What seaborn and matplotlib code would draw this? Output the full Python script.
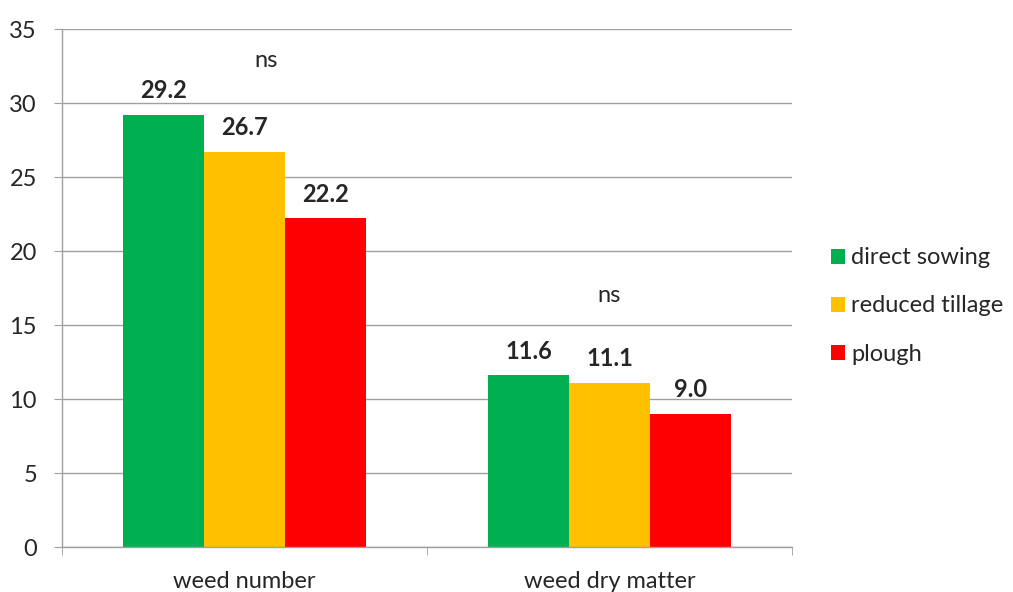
import matplotlib
matplotlib.use("Agg")
import matplotlib.pyplot as plt
import seaborn as sns
import pandas as pd
from matplotlib.ticker import MultipleLocator, FixedLocator

categories = ["weed number", "weed dry matter"]
treatments = ["direct sowing", "reduced tillage", "plough"]
direct_sowing = [29.2, 11.6]
reduced_tillage = [26.7, 11.1]
plough = [22.2, 9.0]
sig_labels = ["ns", "ns"]
sig_y = [32.9, 17.0]
colors = ["#00B050", "#FFC000", "#FF0000"]

rows = []
for t, vals in zip(treatments, [direct_sowing, reduced_tillage, plough]):
    for c, v in zip(categories, vals):
        rows.append({"category": c, "treatment": t, "value": v})
df = pd.DataFrame(rows)

sns.set_style("white")
plt.rcParams["font.family"] = ["Lato", "DejaVu Sans"]

FS = 17

fig = plt.figure(figsize=(10.13, 5.92), dpi=100)
ax = fig.add_axes([62/1013, 45/592, 730/1013, 518/592])

sns.barplot(data=df, x="category", y="value", hue="treatment", order=categories,
            hue_order=treatments, palette=colors, width=0.666, saturation=1,
            ax=ax, linewidth=0, edgecolor="none")

for cont in ax.containers:
    ax.bar_label(cont, fmt="%.1f", padding=9, fontsize=FS, fontweight="bold")

for i, (s, y) in enumerate(zip(sig_labels, sig_y)):
    ax.text(i + (0.06 if i == 0 else 0), y, s, ha="center", va="center", fontsize=FS)

ax.set_xlim(-0.5, 1.5)
ax.set_ylim(0, 35)
ax.yaxis.set_major_locator(MultipleLocator(5))
ax.grid(axis="y", color="#A0A0A0", linewidth=1)
ax.set_axisbelow(True)
for sp in ["top", "right"]:
    ax.spines[sp].set_visible(False)
for sp in ["left", "bottom"]:
    ax.spines[sp].set_color("#A0A0A0")
    ax.spines[sp].set_linewidth(1)

ax.set_xlabel("")
ax.set_ylabel("")
ax.tick_params(axis="y", which="major", length=6, color="#A0A0A0", labelsize=FS, pad=12, direction="out", left=True)
ax.tick_params(axis="x", which="major", length=0, labelsize=FS, pad=17)
ax.xaxis.set_minor_locator(FixedLocator([-0.5, 0.5, 1.5]))
ax.tick_params(axis="x", which="minor", length=6, color="#A0A0A0", direction="out", bottom=True)

handles, labels = ax.get_legend_handles_labels()
ax.legend(handles, labels, loc="center left", bbox_to_anchor=(810/1013, 286/592),
          bbox_transform=fig.transFigure, frameon=False, fontsize=FS,
          handlelength=0.6, handleheight=0.6, handletextpad=0.25, labelspacing=1.15)

fig.savefig("out.png", dpi=100)
